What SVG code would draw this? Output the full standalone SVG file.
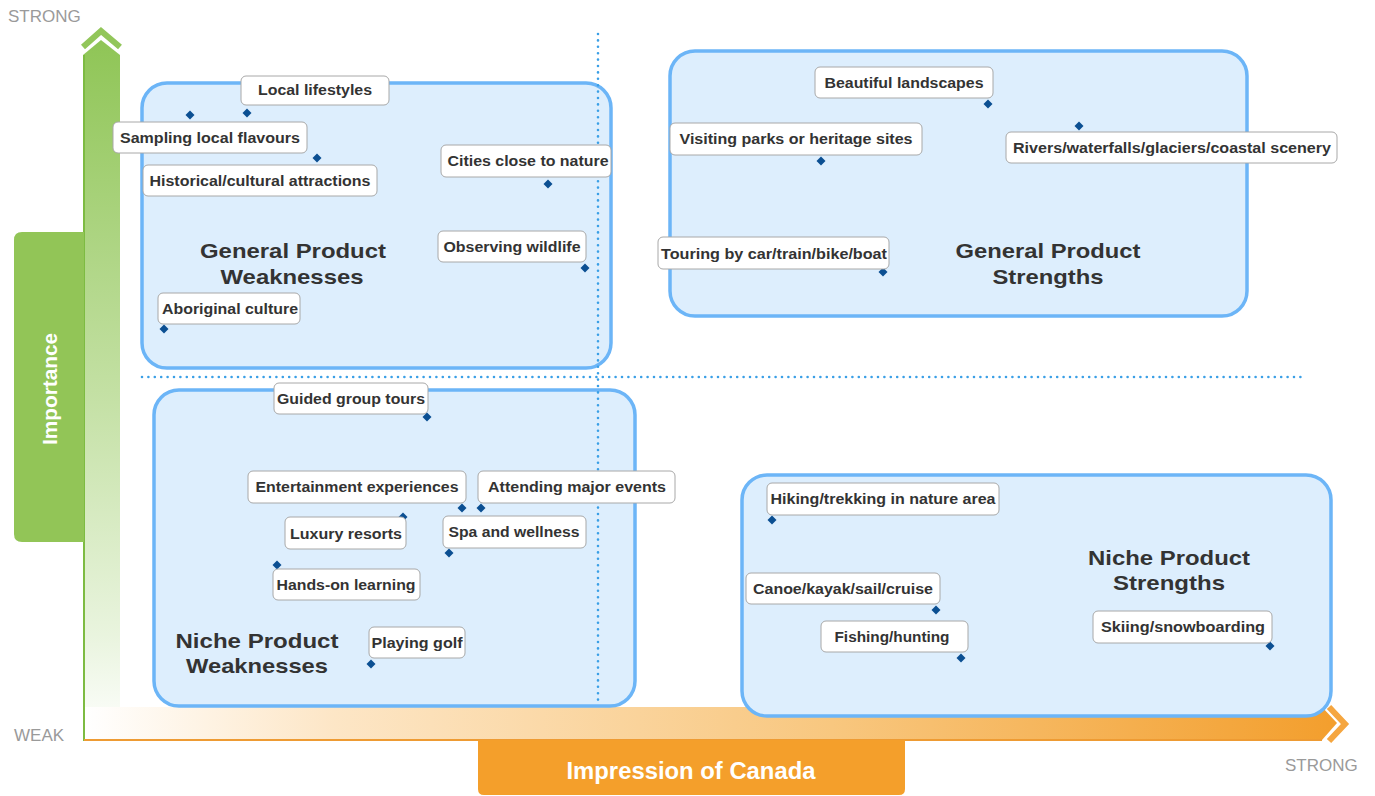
<svg xmlns="http://www.w3.org/2000/svg" xmlns:xlink="http://www.w3.org/1999/xlink" width="1375" height="796" viewBox="0 0 1375 796">
<defs>
<linearGradient id="gGreen" x1="0" y1="40" x2="0" y2="740" gradientUnits="userSpaceOnUse">
<stop offset="0" stop-color="#8FC556"/>
<stop offset="0.5" stop-color="#C3E0A3"/>
<stop offset="0.85" stop-color="#E9F4DE"/>
<stop offset="1" stop-color="#FFFFFF"/>
</linearGradient>
<linearGradient id="gOrange" x1="85" y1="0" x2="1330" y2="0" gradientUnits="userSpaceOnUse">
<stop offset="0" stop-color="#FFFFFF"/>
<stop offset="0.2" stop-color="#FDE6C6"/>
<stop offset="0.6" stop-color="#F8C77F"/>
<stop offset="1" stop-color="#F39F2E"/>
</linearGradient>
<path id="dm" d="M0,-4.5 L4.5,0 L0,4.5 L-4.5,0Z" fill="#0B4F92"/>
<style>
.q{fill:#DDEEFD;stroke:#6CB5F7;stroke-width:3.5}
.lb{fill:#FFFFFF;stroke:#A8A8A8;stroke-width:1}
.lt{font-family:"Liberation Sans",Arial,sans-serif;font-weight:bold;font-size:14px;fill:#333333;text-anchor:middle}
.qt{font-family:"Liberation Sans",Arial,sans-serif;font-weight:bold;font-size:21px;fill:#333333;text-anchor:middle}
.ax{font-family:"Liberation Sans",Arial,sans-serif;font-size:17px;fill:#9A9A9A}
.dot{fill:none;stroke:#3A9FE6;stroke-width:2.6;stroke-linecap:round;stroke-dasharray:0 6.4}
</style>
</defs>
<rect width="1375" height="796" fill="#FFFFFF"/>

<g id="axis-importance">
<path d="M83,55 L101,40 L120,55 V740 H83Z" fill="url(#gGreen)"/>
<line x1="84" y1="55" x2="84" y2="741" stroke="#7DBB42" stroke-width="2"/>
<polyline points="83,47 101,31 120,47" fill="none" stroke="#92C65A" stroke-width="6"/>
<path d="M22,232 H84 V542 H22 Q14,542 14,534 V240 Q14,232 22,232Z" fill="#92C557"/>
<text x="0" y="0" transform="translate(57,389) rotate(-90)" font-family="'Liberation Sans',Arial,sans-serif" font-weight="bold" font-size="20" fill="#FFFFFF" text-anchor="middle" textLength="112" lengthAdjust="spacingAndGlyphs">Importance</text>
<text class="ax" x="8" y="22">STRONG</text>
<text class="ax" x="14" y="741">WEAK</text>
</g>

<g id="axis-impression">
<path d="M85,707 H1322 L1337,723 L1322,740 H85Z" fill="url(#gOrange)"/>
<line x1="84" y1="740" x2="1322" y2="740" stroke="#EE9B33" stroke-width="2"/>
<polyline points="1329,707 1345,724 1329,741" fill="none" stroke="#F5A640" stroke-width="6"/>
<path d="M478,740 H905 V789 Q905,795 899,795 H484 Q478,795 478,789Z" fill="#F49F2B"/>
<text x="691" y="779" font-family="'Liberation Sans',Arial,sans-serif" font-weight="bold" font-size="23" fill="#FFFFFF" text-anchor="middle" textLength="249" lengthAdjust="spacingAndGlyphs">Impression of Canada</text>
<text class="ax" x="1285" y="771">STRONG</text>
</g>

<g id="quadrant-gpw">
<rect class="q" x="142" y="83" width="469" height="285" rx="25"/>
<text class="qt" x="293" y="258" textLength="186" lengthAdjust="spacingAndGlyphs">General Product</text>
<text class="qt" x="292" y="284" textLength="143" lengthAdjust="spacingAndGlyphs">Weaknesses</text>
</g>
<g id="quadrant-gps">
<rect class="q" x="670" y="51" width="577" height="265" rx="25"/>
<text class="qt" x="1048" y="258" textLength="185" lengthAdjust="spacingAndGlyphs">General Product</text>
<text class="qt" x="1048" y="284" textLength="111" lengthAdjust="spacingAndGlyphs">Strengths</text>
</g>
<g id="quadrant-npw">
<rect class="q" x="154" y="390" width="481" height="316" rx="25"/>
<text class="qt" x="257" y="648" textLength="163" lengthAdjust="spacingAndGlyphs">Niche Product</text>
<text class="qt" x="257" y="673" textLength="142" lengthAdjust="spacingAndGlyphs">Weaknesses</text>
</g>
<g id="quadrant-nps">
<rect class="q" x="742" y="475" width="589" height="241" rx="25"/>
<text class="qt" x="1169" y="565" textLength="162" lengthAdjust="spacingAndGlyphs">Niche Product</text>
<text class="qt" x="1169" y="590" textLength="112" lengthAdjust="spacingAndGlyphs">Strengths</text>
</g>

<g id="dividers">
<line class="dot" x1="598" y1="34" x2="598" y2="706"/>
<line class="dot" x1="142" y1="377" x2="1306" y2="377"/>
</g>

<g id="sampling-local-flavours">
<use xlink:href="#dm" x="190" y="115"/>
<rect class="lb" x="113" y="122" width="194" height="31" rx="5"/>
<text class="lt" x="210" y="143" textLength="180" lengthAdjust="spacingAndGlyphs">Sampling local flavours</text>
</g>
<g id="local-lifestyles">
<use xlink:href="#dm" x="247" y="113"/>
<rect class="lb" x="241" y="76" width="148" height="29" rx="5"/>
<text class="lt" x="315" y="95" textLength="114" lengthAdjust="spacingAndGlyphs">Local lifestyles</text>
</g>
<g id="historical-cultural-attractions">
<use xlink:href="#dm" x="317" y="158"/>
<rect class="lb" x="143" y="165" width="234" height="31" rx="5"/>
<text class="lt" x="260" y="186" textLength="221" lengthAdjust="spacingAndGlyphs">Historical/cultural attractions</text>
</g>
<g id="cities-close-to-nature">
<use xlink:href="#dm" x="548" y="184"/>
<rect class="lb" x="441" y="145" width="170" height="32" rx="5"/>
<text class="lt" x="528" y="166" textLength="161" lengthAdjust="spacingAndGlyphs">Cities close to nature</text>
</g>
<g id="observing-wildlife">
<use xlink:href="#dm" x="585" y="268"/>
<rect class="lb" x="438" y="231" width="148" height="31" rx="5"/>
<text class="lt" x="512" y="252" textLength="137" lengthAdjust="spacingAndGlyphs">Observing wildlife</text>
</g>
<g id="aboriginal-culture">
<use xlink:href="#dm" x="164" y="329"/>
<rect class="lb" x="158" y="293" width="142" height="31" rx="5"/>
<text class="lt" x="230" y="314" textLength="136" lengthAdjust="spacingAndGlyphs">Aboriginal culture</text>
</g>

<g id="beautiful-landscapes">
<use xlink:href="#dm" x="988" y="104"/>
<rect class="lb" x="815" y="67" width="178" height="31" rx="5"/>
<text class="lt" x="904" y="88" textLength="159" lengthAdjust="spacingAndGlyphs">Beautiful landscapes</text>
</g>
<g id="visiting-parks">
<use xlink:href="#dm" x="821" y="161"/>
<rect class="lb" x="670" y="123" width="252" height="32" rx="5"/>
<text class="lt" x="796" y="144" textLength="233" lengthAdjust="spacingAndGlyphs">Visiting parks or heritage sites</text>
</g>
<g id="rivers-scenery">
<use xlink:href="#dm" x="1079" y="126"/>
<rect class="lb" x="1006" y="132" width="331" height="31" rx="5"/>
<text class="lt" x="1172" y="153" textLength="318" lengthAdjust="spacingAndGlyphs">Rivers/waterfalls/glaciers/coastal scenery</text>
</g>
<g id="touring">
<use xlink:href="#dm" x="883" y="272"/>
<rect class="lb" x="658" y="237" width="231" height="32" rx="5"/>
<text class="lt" x="774" y="259" textLength="226" lengthAdjust="spacingAndGlyphs">Touring by car/train/bike/boat</text>
</g>

<g id="guided-group-tours">
<use xlink:href="#dm" x="427" y="417"/>
<rect class="lb" x="274" y="383" width="154" height="31" rx="5"/>
<text class="lt" x="351" y="404" textLength="148" lengthAdjust="spacingAndGlyphs">Guided group tours</text>
</g>
<g id="entertainment-experiences">
<use xlink:href="#dm" x="462" y="508"/>
<rect class="lb" x="248" y="471" width="218" height="32" rx="5"/>
<text class="lt" x="357" y="492" textLength="203" lengthAdjust="spacingAndGlyphs">Entertainment experiences</text>
</g>
<g id="attending-major-events">
<use xlink:href="#dm" x="481" y="508"/>
<rect class="lb" x="478" y="471" width="197" height="32" rx="5"/>
<text class="lt" x="577" y="492" textLength="178" lengthAdjust="spacingAndGlyphs">Attending major events</text>
</g>
<g id="luxury-resorts">
<use xlink:href="#dm" x="403" y="517"/>
<rect class="lb" x="285" y="517" width="121" height="32" rx="5"/>
<text class="lt" x="346" y="539" textLength="112" lengthAdjust="spacingAndGlyphs">Luxury resorts</text>
</g>
<g id="spa-and-wellness">
<use xlink:href="#dm" x="449" y="553"/>
<rect class="lb" x="443" y="516" width="143" height="32" rx="5"/>
<text class="lt" x="514" y="537" textLength="131" lengthAdjust="spacingAndGlyphs">Spa and wellness</text>
</g>
<g id="hands-on-learning">
<use xlink:href="#dm" x="277" y="565"/>
<rect class="lb" x="273" y="569" width="147" height="31" rx="5"/>
<text class="lt" x="346" y="590" textLength="139" lengthAdjust="spacingAndGlyphs">Hands-on learning</text>
</g>
<g id="playing-golf">
<use xlink:href="#dm" x="371" y="664"/>
<rect class="lb" x="369" y="627" width="96" height="31" rx="5"/>
<text class="lt" x="417" y="648" textLength="91" lengthAdjust="spacingAndGlyphs">Playing golf</text>
</g>

<g id="hiking-trekking">
<use xlink:href="#dm" x="772" y="520"/>
<rect class="lb" x="767" y="483" width="232" height="32" rx="5"/>
<text class="lt" x="883" y="504" textLength="225" lengthAdjust="spacingAndGlyphs">Hiking/trekking in nature area</text>
</g>
<g id="canoe-kayak">
<use xlink:href="#dm" x="936" y="610"/>
<rect class="lb" x="746" y="573" width="194" height="31" rx="5"/>
<text class="lt" x="843" y="594" textLength="180" lengthAdjust="spacingAndGlyphs">Canoe/kayak/sail/cruise</text>
</g>
<g id="fishing-hunting">
<use xlink:href="#dm" x="961" y="658"/>
<rect class="lb" x="821" y="621" width="147" height="31" rx="5"/>
<text class="lt" x="892" y="642" textLength="115" lengthAdjust="spacingAndGlyphs">Fishing/hunting</text>
</g>
<g id="skiing-snowboarding">
<use xlink:href="#dm" x="1270" y="646"/>
<rect class="lb" x="1093" y="611" width="179" height="32" rx="5"/>
<text class="lt" x="1183" y="632" textLength="164" lengthAdjust="spacingAndGlyphs">Skiing/snowboarding</text>
</g>
</svg>
